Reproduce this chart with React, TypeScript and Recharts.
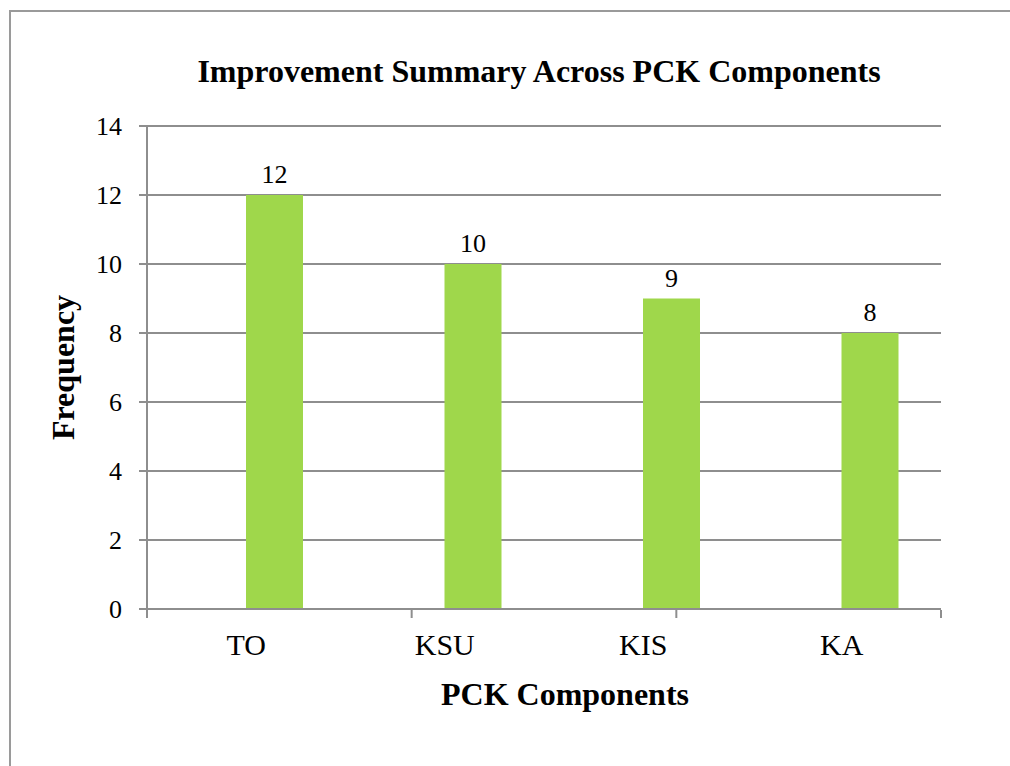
import { Bar, BarChart, CartesianGrid, LabelList, XAxis, YAxis } from 'recharts';

const categories = ['TO', 'KSU', 'KIS', 'KA'];
const frequency = [12, 10, 9, 8];
// the original is a two-series cluster whose first series is empty
const emptySeries: (number | null)[] = [null, null, null, null];
const yTicks = [0, 2, 4, 6, 8, 10, 12, 14];
const edgeTicks = [0, 1, 2, 3, 4];

const FONT = '"Liberation Serif", "Times New Roman", serif';
const GRID = '#8e8e8e';

const data = categories.map((name, i) => ({
  name,
  blank: emptySeries[i],
  frequency: frequency[i],
}));

export default function App() {
  return (
    <div style={{ position: 'fixed', left: 0, top: 0, width: 1010, height: 766, overflow: 'hidden', background: '#fff' }}>
      <style>{'html, body { margin: 0; overflow: hidden; background: #fff; }'}</style>
      <div
        style={{
          position: 'absolute',
          left: 9,
          top: 10,
          width: 1100,
          height: 900,
          borderLeft: '2px solid #9a9a9a',
          borderTop: '2px solid #9a9a9a',
        }}
      />
      <div
        style={{
          position: 'absolute',
          left: 39,
          top: 55,
          width: 1000,
          textAlign: 'center',
          fontFamily: FONT,
          fontWeight: 'bold',
          fontSize: 32,
          lineHeight: '32px',
          color: '#000',
        }}
      >
        Improvement Summary Across PCK Components
      </div>
      <div style={{ position: 'absolute', left: 0, top: 0 }}>
        <BarChart
          width={1010}
          height={766}
          data={data}
          margin={{ top: 126, right: 69, bottom: 155, left: 0 }}
          barGap={0}
          barSize={57}
        >
          <CartesianGrid vertical={false} stroke={GRID} strokeWidth={2} />
          <XAxis
            dataKey="name"
            height={1}
            stroke={GRID}
            axisLine={{ stroke: GRID, strokeWidth: 2 }}
            tickLine={false}
            tickSize={8}
            tickMargin={17}
            tick={{ fill: '#000', fontSize: 30, fontFamily: FONT }}
            label={{
              value: 'PCK Components',
              position: 'bottom',
              offset: 72,
              dx: 21,
              style: { fontSize: 32, fontWeight: 'bold', fontFamily: FONT, fill: '#000' },
            }}
          />
          <XAxis
            xAxisId="edges"
            type="number"
            domain={[0, 4]}
            ticks={edgeTicks}
            interval={0}
            allowDataOverflow
            height={1}
            stroke={GRID}
            axisLine={false}
            tickFormatter={() => ''}
            tick={{ fill: 'transparent', fontSize: 1 }}
            tickSize={8}
            tickLine={{ stroke: GRID, strokeWidth: 2 }}
          />
          <YAxis
            width={147}
            domain={[0, 14]}
            ticks={yTicks}
            interval={0}
            stroke={GRID}
            axisLine={{ stroke: GRID, strokeWidth: 2 }}
            tickLine={{ stroke: GRID, strokeWidth: 2 }}
            tickSize={8}
            tickMargin={17}
            tick={{ fill: '#000', fontSize: 26, fontFamily: FONT }}
            label={{
              value: 'Frequency',
              angle: -90,
              position: 'insideLeft',
              offset: 63,
              textAnchor: 'middle',
              style: { fontSize: 32, fontWeight: 'bold', fontFamily: FONT, fill: '#000' },
            }}
          />
          <Bar dataKey="blank" fill="transparent" isAnimationActive={false} />
          <Bar dataKey="frequency" fill="#9fd74b" isAnimationActive={false}>
            <LabelList
              dataKey="frequency"
              position="top"
              offset={12}
              fill="#000"
              style={{ fontSize: 26, fontFamily: FONT, fill: '#000' }}
            />
          </Bar>
        </BarChart>
      </div>
    </div>
  );
}
